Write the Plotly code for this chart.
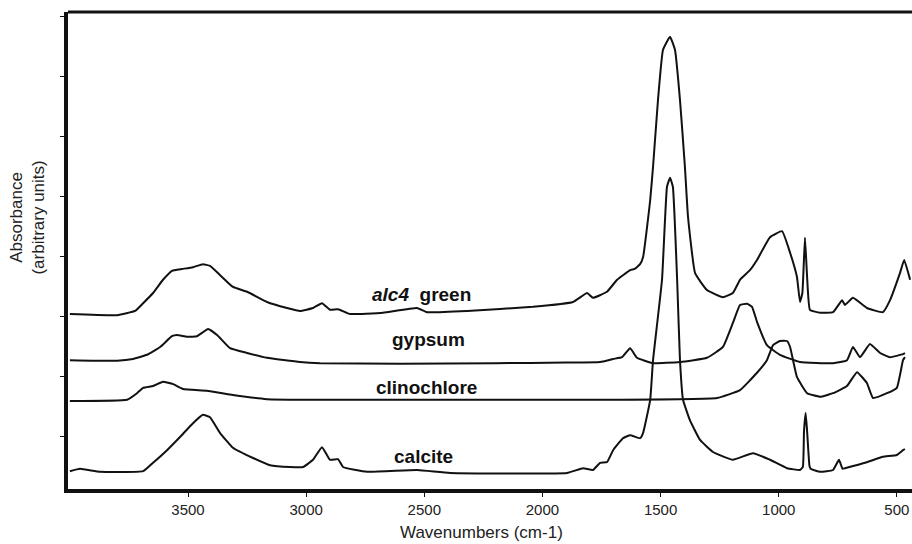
import plotly.graph_objects as go

# ---- data (wavenumber cm-1, absorbance in arbitrary units, offset per trace) ----
alc4_wn = [4000, 3800, 3724, 3690, 3648, 3606, 3568, 3525, 3479, 3437, 3407, 3365, 3310, 3250,
           3166, 3081, 3026, 2971, 2933, 2899, 2865, 2814, 2675, 2531, 2489, 2319, 2040, 1871,
           1811, 1786, 1727, 1684, 1629, 1610, 1587, 1574, 1544, 1532, 1511, 1490, 1460, 1439,
           1418, 1397, 1384, 1354, 1304, 1236, 1194, 1164, 1122, 1092, 1037, 986, 952, 923, 910,
           900, 889, 880, 868, 825, 770, 732, 720, 686, 627, 559, 529, 487, 469, 444]
alc4_ab = [3.05, 3.03, 3.10, 3.23, 3.40, 3.62, 3.77, 3.80, 3.83, 3.88, 3.85, 3.70, 3.50, 3.42,
           3.25, 3.15, 3.10, 3.15, 3.23, 3.12, 3.13, 3.05, 3.07, 3.15, 3.08, 3.10, 3.17, 3.25,
           3.40, 3.32, 3.42, 3.62, 3.78, 3.80, 3.88, 4.00, 4.95, 5.50, 6.62, 7.45, 7.67, 7.45,
           6.62, 5.50, 4.67, 3.73, 3.45, 3.33, 3.40, 3.62, 3.78, 3.95, 4.33, 4.43, 4.07, 3.67, 3.25,
           3.40, 4.32, 3.67, 3.12, 3.07, 3.08, 3.28, 3.20, 3.32, 3.15, 3.08, 3.28, 3.73, 3.95, 3.62]

gyp_wn = [4000, 3800, 3733, 3674, 3618, 3568, 3547, 3504, 3462, 3415, 3377, 3322, 3250, 3166,
          3026, 2941, 2603, 2200, 1900, 1756, 1701, 1663, 1629, 1600, 1532, 1418, 1304, 1236,
          1194, 1164, 1134, 1113, 1092, 1050, 995, 910, 770, 711, 686, 656, 614, 571, 529, 474, 466]
gyp_ab = [2.28, 2.27, 2.30, 2.37, 2.50, 2.68, 2.70, 2.67, 2.68, 2.80, 2.70, 2.48, 2.40, 2.32,
          2.25, 2.23, 2.22, 2.23, 2.24, 2.25, 2.30, 2.33, 2.48, 2.32, 2.23, 2.25, 2.32, 2.50,
          2.90, 3.20, 3.22, 3.17, 2.92, 2.53, 2.37, 2.25, 2.23, 2.28, 2.50, 2.33, 2.55, 2.40, 2.33, 2.38, 2.40]

cli_wn = [4000, 3758, 3716, 3690, 3648, 3606, 3563, 3521, 3420, 3310, 3166, 2941, 2000, 1756,
          1261, 1164, 1092, 1050, 1024, 995, 965, 952, 923, 880, 825, 770, 711, 669, 627, 601,
          542, 500, 474, 466]
cli_ab = [1.60, 1.62, 1.73, 1.82, 1.85, 1.92, 1.88, 1.80, 1.77, 1.70, 1.63, 1.62, 1.62, 1.62,
          1.65, 1.78, 2.07, 2.28, 2.53, 2.60, 2.60, 2.50, 2.00, 1.73, 1.67, 1.73, 1.85, 2.08, 1.90, 1.65,
          1.73, 1.82, 2.28, 2.33]

cal_wn = [4000, 3957, 3872, 3690, 3648, 3589, 3534, 3479, 3437, 3407, 3365, 3310, 3225, 3153,
          3068, 3013, 2971, 2933, 2899, 2865, 2844, 2742, 2531, 2391, 1896, 1828, 1786, 1756,
          1727, 1701, 1659, 1629, 1587, 1574, 1544, 1532, 1494, 1473, 1460, 1448, 1430, 1418,
          1405, 1376, 1333, 1278, 1194, 1109, 1037, 965, 910, 898, 893, 886, 880, 870, 865, 825, 770,
          745, 730, 720, 627, 559, 500, 474, 466]
cal_ab = [0.43, 0.47, 0.42, 0.43, 0.57, 0.78, 1.00, 1.23, 1.37, 1.33, 1.07, 0.82, 0.65, 0.53,
          0.50, 0.50, 0.62, 0.83, 0.62, 0.63, 0.50, 0.42, 0.45, 0.40, 0.40, 0.48, 0.45, 0.57,
          0.58, 0.78, 0.98, 1.03, 0.98, 1.07, 1.62, 2.28, 3.62, 5.17, 5.32, 5.17, 3.62, 2.28,
          1.62, 1.28, 0.95, 0.75, 0.62, 0.73, 0.62, 0.48, 0.45, 0.50, 1.10, 1.40, 1.10, 0.52, 0.47, 0.42, 0.45,
          0.62, 0.47, 0.48, 0.58, 0.67, 0.70, 0.78, 0.80]

series = [("alc4 green", alc4_wn, alc4_ab), ("gypsum", gyp_wn, gyp_ab),
          ("clinochlore", cli_wn, cli_ab), ("calcite", cal_wn, cal_ab)]

label_text = ["<b><i>alc4</i>&nbsp; green</b>", "<b>gypsum</b>", "<b>clinochlore</b>", "<b>calcite</b>"]
label_x = [2514, 2482, 2491, 2505]
label_y = [3.38, 2.63, 1.83, 0.68]

x_ticks = [3500, 3000, 2500, 2000, 1500, 1000, 500]
y_ticks = [1, 2, 3, 4, 5, 6, 7, 8]

FONT = "Arial, Liberation Sans, sans-serif"

fig = go.Figure()
for name, wn, ab in series:
    fig.add_trace(go.Scatter(x=wn, y=ab, mode="lines", name=name, hoverinfo="skip",
                             line=dict(color="#111111", width=2, shape="spline", smoothing=0.35)))

for t, x, y in zip(label_text, label_x, label_y):
    fig.add_annotation(x=x, y=y, text=t, showarrow=False, xanchor="center", yanchor="middle",
                       font=dict(family=FONT, size=19, color="#111111"))

fig.add_annotation(xref="paper", yref="paper", x=0.49, y=-0.092, text="Wavenumbers (cm-1)",
                   showarrow=False, xanchor="center", yanchor="middle",
                   font=dict(family=FONT, size=17, color="#222222"))
fig.add_annotation(xref="paper", yref="paper", x=-0.048, y=0.57,
                   text="Absorbance<br>(arbitrary units)", textangle=-90,
                   showarrow=False, xanchor="center", yanchor="middle",
                   font=dict(family=FONT, size=17, color="#222222"))

fig.add_shape(type="line", xref="paper", yref="paper", x0=0, x1=1, y0=1, y1=1,
              line=dict(color="#111111", width=3))

fig.update_layout(
    width=912, height=544,
    margin=dict(l=68, r=0, t=12, b=55),
    paper_bgcolor="white", plot_bgcolor="white",
    showlegend=False,
    xaxis=dict(range=[4008, 436], tickvals=x_ticks, ticks="outside", ticklen=4,
               tickcolor="#111111", showgrid=False, zeroline=False, showline=True,
               linecolor="#111111", linewidth=4,
               tickfont=dict(family=FONT, size=15, color="#222222")),
    yaxis=dict(range=[0.133, 8.083], tickvals=y_ticks, showticklabels=False,
               ticks="outside", ticklen=4, tickcolor="#111111", showgrid=False,
               zeroline=False, showline=True, linecolor="#111111", linewidth=4),
)

fig.write_html("out.html", config={"displayModeBar": False},
               post_script="document.body.style.margin='0';document.body.style.overflow='hidden';")
